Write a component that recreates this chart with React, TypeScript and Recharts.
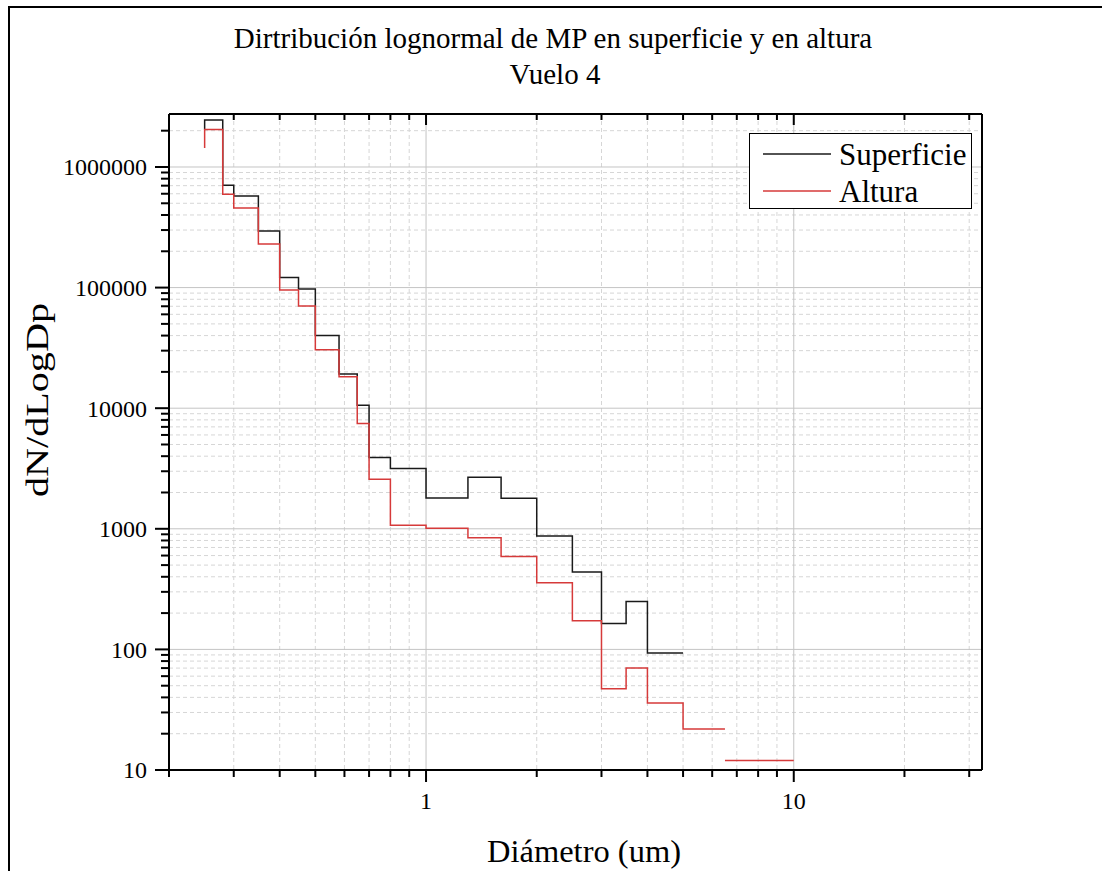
import { CartesianGrid, Line, LineChart, XAxis, YAxis } from 'recharts';

// bin edges (um) and dN/dLogDp per series
const diamSup = [0.25, 0.28, 0.3, 0.35, 0.4, 0.45, 0.5, 0.58, 0.65, 0.7, 0.8, 1.0, 1.3, 1.6, 2.0, 2.5, 3.0, 3.5, 4.0, 5.0];
const superficie = [2050000, 2450000, 705000, 575000, 295000, 121000, 97500, 40000, 19200, 10600, 3910, 3160, 1800, 2670, 1790, 871, 439, 164, 249, 93.5];

const diamAlt = [0.25, 0.28, 0.3, 0.35, 0.4, 0.45, 0.5, 0.58, 0.65, 0.7, 0.8, 1.0, 1.3, 1.6, 2.0, 2.5, 3.0, 3.5, 4.0, 5.0, 6.5, 6.5, 6.5, 10];
const altura = [1440000, 2050000, 594000, 457000, 230000, 95700, 70500, 30500, 18200, 7470, 2570, 1070, 1010, 843, 590, 357, 173, 47.2, 70, 36, 21.9, null, 12, 12];

const xMajor = [1, 10];
const xMinor = [0.2, 0.3, 0.4, 0.5, 0.6, 0.7, 0.8, 0.9, 2, 3, 4, 5, 6, 7, 8, 9, 20, 30];
const yMajor = [10, 100, 1000, 10000, 100000, 1000000];
const yMinor = [
  20, 30, 40, 50, 60, 70, 80, 90,
  200, 300, 400, 500, 600, 700, 800, 900,
  2000, 3000, 4000, 5000, 6000, 7000, 8000, 9000,
  20000, 30000, 40000, 50000, 60000, 70000, 80000, 90000,
  200000, 300000, 400000, 500000, 600000, 700000, 800000, 900000,
  2000000,
];

const xDomain = [0.2, 32.5];
const yDomain = [10, 2750000];

const supData = diamSup.map((d, i) => ({ d, v: superficie[i] }));
const altData = diamAlt.map((d, i) => ({ d, v: altura[i] }));
const xTicks = [...xMinor, ...xMajor].sort((a, b) => a - b);
const yTicks = [...yMinor, ...yMajor].sort((a, b) => a - b);

const font = '"Liberation Serif", "Times New Roman", serif';
const txt = { fontFamily: font, fill: '#000' };

const BottomTick = (props: any) => {
  const { x, y, payload } = props;
  const major = xMajor.includes(payload.value);
  return (
    <g>
      <line x1={x} y1={y} x2={x} y2={y + (major ? 12 : 7)} stroke='#000' strokeWidth={2} />
      {major && (
        <text x={x} y={y + 39} textAnchor='middle' fontSize={24} style={txt}>
          {payload.value}
        </text>
      )}
    </g>
  );
};

const TopTick = (props: any) => {
  const { x, y, payload } = props;
  const major = xMajor.includes(payload.value);
  return <line x1={x} y1={y} x2={x} y2={y + (major ? 11 : 6)} stroke='#000' strokeWidth={2} />;
};

const LeftTick = (props: any) => {
  const { x, y, payload } = props;
  const major = yMajor.includes(payload.value);
  return (
    <g>
      <line x1={x - (major ? 14 : 8)} y1={y} x2={x} y2={y} stroke='#000' strokeWidth={2} />
      {major && (
        <text x={x - 22} y={y} dy='0.35em' textAnchor='end' fontSize={24} style={txt}>
          {payload.value}
        </text>
      )}
    </g>
  );
};

const App = () => {
  return (
    <div style={{ position: 'absolute', left: 0, top: 0, width: 1102, height: 871, overflow: 'hidden', background: '#fff' }}>
      <div style={{ position: 'absolute', left: 8, top: 6, width: 1200, height: 1000, borderLeft: '2px solid #000', borderTop: '2px solid #000' }} />
      <div style={{ position: 'absolute', left: 0, top: 0 }}>
        <LineChart width={1102} height={871} margin={{ top: 104, right: 110, bottom: 41, left: 69 }}>
          <CartesianGrid verticalValues={xMinor} horizontalValues={yMinor} stroke='#d6d6d6' strokeDasharray='4 3' />
          <CartesianGrid verticalValues={xMajor} horizontalValues={yMajor} stroke='#c4c4c4' />
          <XAxis
            dataKey='d'
            type='number'
            scale='log'
            domain={xDomain}
            allowDataOverflow
            ticks={xTicks}
            interval={0}
            tickSize={0}
            tickMargin={0}
            tickLine={false}
            tick={BottomTick}
            axisLine={{ stroke: '#000', strokeWidth: 2 }}
            height={60}
          />
          <XAxis
            xAxisId='top'
            orientation='top'
            dataKey='d'
            type='number'
            scale='log'
            domain={xDomain}
            allowDataOverflow
            ticks={xTicks}
            interval={0}
            tickSize={0}
            tickMargin={0}
            tickLine={false}
            tick={TopTick}
            axisLine={{ stroke: '#000', strokeWidth: 2 }}
            height={10}
          />
          <YAxis
            type='number'
            scale='log'
            domain={yDomain}
            allowDataOverflow
            ticks={yTicks}
            interval={0}
            tickSize={0}
            tickMargin={0}
            tickLine={false}
            tick={LeftTick}
            axisLine={{ stroke: '#000', strokeWidth: 2 }}
            width={100}
          />
          <YAxis
            yAxisId='right'
            orientation='right'
            type='number'
            scale='log'
            domain={yDomain}
            allowDataOverflow
            ticks={yMajor}
            tick={false}
            tickLine={false}
            axisLine={{ stroke: '#000', strokeWidth: 2 }}
            width={10}
          />
          <Line
            data={supData}
            dataKey='v'
            name='Superficie'
            type='stepBefore'
            stroke='#1a1a1a'
            strokeWidth={1.5}
            dot={false}
            connectNulls={false}
            isAnimationActive={false}
          />
          <Line
            data={altData}
            dataKey='v'
            name='Altura'
            type='stepBefore'
            stroke='#d63a3a'
            strokeWidth={1.5}
            dot={false}
            connectNulls={false}
            isAnimationActive={false}
          />
        </LineChart>
      </div>
      <svg width={1102} height={871} style={{ position: 'absolute', left: 0, top: 0, pointerEvents: 'none' }}>
        <text x={553} y={48} textAnchor='middle' fontSize={29} style={txt}>
          Dirtribución lognormal de MP en superficie y en altura
        </text>
        <text x={555} y={84} textAnchor='middle' fontSize={29} style={txt}>
          Vuelo 4
        </text>
        <text x={584} y={862} textAnchor='middle' fontSize={31} textLength={194} lengthAdjust='spacingAndGlyphs' style={txt}>
          Diámetro (um)
        </text>
        <text
          x={48}
          y={400}
          textAnchor='middle'
          fontSize={32}
          textLength={194}
          lengthAdjust='spacingAndGlyphs'
          transform='rotate(-90 48 400)'
          style={txt}
        >
          dN/dLogDp
        </text>
        <rect x={749.5} y={133.5} width={222} height={75} fill='#fff' stroke='#000' strokeWidth={1} />
        <line x1={763} y1={154} x2={831} y2={154} stroke='#1a1a1a' strokeWidth={1.5} />
        <text x={839} y={165} fontSize={31} style={txt}>
          Superficie
        </text>
        <line x1={763} y1={191} x2={831} y2={191} stroke='#d63a3a' strokeWidth={1.5} />
        <text x={839} y={202} fontSize={31} style={txt}>
          Altura
        </text>
      </svg>
    </div>
  );
};

export default App;
